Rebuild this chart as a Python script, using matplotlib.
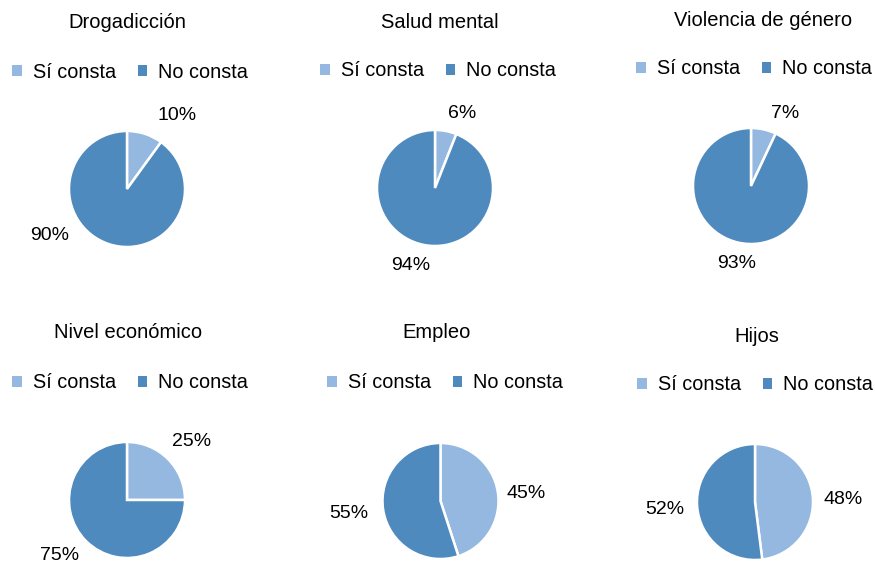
import matplotlib
matplotlib.use("Agg")
import matplotlib.pyplot as plt
from matplotlib.patches import Patch

plt.rcParams['font.family'] = ['Liberation Sans', 'DejaVu Sans']

# ---- data ----
titles = ["Drogadicción", "Salud mental", "Violencia de género",
          "Nivel económico", "Empleo", "Hijos"]
categories = ["Sí consta", "No consta"]
si_consta = [10, 6, 7, 25, 45, 48]
no_consta = [90, 94, 93, 75, 55, 52]

# ---- layout (pixels, origin top-left) ----
W, H = 875, 564
R = 58  # pie radius in px
pie_centers = [(127, 189), (435, 188), (751, 186),
               (127, 500), (440.5, 501), (755, 502)]
title_pos = [(127, 22), (440, 22), (763, 20),
             (128, 333), (437, 333), (757, 337)]
legend_pos = [(130, 72), (438, 71), (754, 69),
              (130, 383), (445, 383), (755, 385)]
# label offsets from pie center in px (x right, y up): (si, no)
label_off = [((50, 74), (-77, -46)),
             ((27, 75), (-24, -77)),
             ((34, 72), (-14, -77)),
             ((65, 59), (-67, -56)),
             ((86, 8), (-92, -13)),
             ((88, 3), (-90, -7))]

colors = ["#95B8E0", "#4F8ABE"]
fs_title = 14.5
fs_leg = 14.3
fs_lab = 14

fig = plt.figure(figsize=(W / 100, H / 100), dpi=100)

half = 150  # half-size of each pie axes in px
for i in range(6):
    cx, cy = pie_centers[i]
    ax = fig.add_axes([(cx - half) / W, (H - cy - half) / H, 2 * half / W, 2 * half / H])
    lim = half / R
    ax.pie([si_consta[i], no_consta[i]], colors=colors, startangle=90,
           counterclock=False, radius=1,
           wedgeprops=dict(edgecolor="white", linewidth=1.8))
    ax.set_xlim(-lim, lim)
    ax.set_ylim(-lim, lim)
    ax.set_aspect("equal")
    ax.axis("off")
    vals = [si_consta[i], no_consta[i]]
    for v, (dx, dy) in zip(vals, label_off[i]):
        ax.text(dx / R, dy / R, f"{v}%", ha="center", va="center", fontsize=fs_lab,
                color="black", clip_on=False)

    tx, ty = title_pos[i]
    fig.text(tx / W, 1 - ty / H, titles[i], ha="center", va="center", fontsize=fs_title)

    lx, ly = legend_pos[i]
    handles = [Patch(facecolor=c, edgecolor="none") for c in colors]
    fig.legend(handles, categories, loc="center",
               bbox_to_anchor=(lx / W, 1 - ly / H), ncol=2, frameon=False,
               fontsize=fs_leg, handlelength=0.5, handleheight=0.5,
               handletextpad=0.55, columnspacing=1.1, borderpad=0,
               borderaxespad=0)

fig.savefig("out.png", dpi=100)
